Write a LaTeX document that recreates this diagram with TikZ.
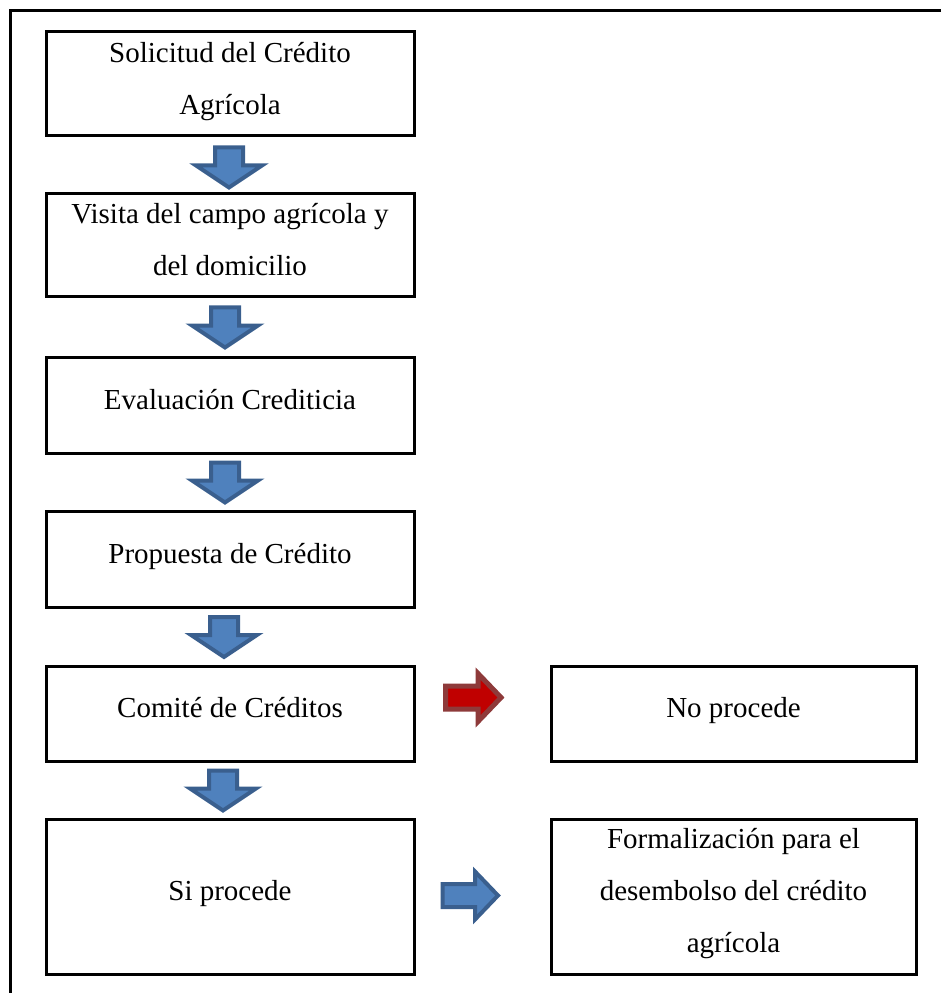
\documentclass[tikz,border=0pt]{standalone}
\usepackage{fontspec}
\setmainfont{Liberation Serif}
\usetikzlibrary{calc}
\definecolor{arrblue}{HTML}{4F81BD}
\definecolor{arrblueline}{HTML}{3A5F8E}
\definecolor{arrred}{HTML}{C00000}
\definecolor{arrredline}{HTML}{8E3A3A}
\tikzset{
  box/.style={draw, line width=1.5pt, minimum width=184pt, minimum height=48pt,
    align=center, text depth=6pt, font=\fontsize{14.5pt}{26pt}\selectfont},
  bluearr/.style={fill=arrblue, draw=arrblueline, line width=2pt, line join=miter},
  redarr/.style={fill=arrred, draw=arrredline, line width=2.5pt, line join=miter}
}
\def\downarr(#1){\filldraw[bluearr] ($(#1)+(-14,-20.5)$) -- ++(28,0) -- ++(0,18) -- ++(19,0) -- ++(-33,22) -- ++(-33,-22) -- ++(19,0) -- cycle;}
\def\rightarr[#1](#2){\filldraw[#1] ($(#2)+(-29,-11.5)$) -- ++(32.5,0) -- ++(0,-12.5) -- ++(23,24) -- ++(-23,24) -- ++(0,-12.5) -- ++(-32.5,0) -- cycle;}
\begin{document}
\begin{tikzpicture}[x=0.5pt,y=-0.5pt]
			%%%%% START %%%%%
			
			\useasboundingbox (0,0) rectangle (941,994);
			\draw[line width=1.5pt] (941,11) -- (10,11) -- (10,993);
			
			\node[box, minimum height=52pt] (b1) at (230,84) {Solicitud del Crédito\\Agrícola};
			\node[box, minimum height=51.5pt] (b2) at (230,245.5) {Visita del campo agrícola y\\del domicilio};
			\node[box] (b3) at (230,405) {Evaluación Crediticia};
			\node[box] (b4) at (230,559) {Propuesta de Crédito};
			\node[box, minimum height=47.5pt] (b5) at (230,713.5) {Comité de Créditos};
			\node[box, minimum height=77.5pt] (b6) at (230,896.5) {Si procede};
			
			\node[box, minimum width=182.5pt, minimum height=47.5pt] (b7) at (733.5,713.5) {No procede};
			\node[box, minimum width=182.5pt, minimum height=77.5pt] (b8) at (733.5,896.5) {Formalización para el\\desembolso del crédito\\agrícola};
			
			\coordinate (a1) at ($(b1.south)!0.5!(b2.north)+(-1,3)$);
			\coordinate (a2) at ($(b2.south)!0.5!(b3.north)+(-5,1)$);
			\coordinate (a3) at ($(b3.south)!0.5!(b4.north)+(-5,1)$);
			\coordinate (a4) at ($(b4.south)!0.5!(b5.north)+(-6,1)$);
			\coordinate (a5) at ($(b5.south)!0.5!(b6.north)+(-7,1)$);
			\downarr(a1)
			\downarr(a2)
			\downarr(a3)
			\downarr(a4)
			\downarr(a5)
			
			\coordinate (r1) at ($(b5.east)!0.5!(b7.west)+(-8,-16)$);
			\coordinate (r2) at ($(b6.east)!0.5!(b8.west)+(-11,-1)$);
			\rightarr[redarr](r1)
			\rightarr[bluearr](r2)
			
			%%%%% END %%%%%
\end{tikzpicture}
\end{document}
